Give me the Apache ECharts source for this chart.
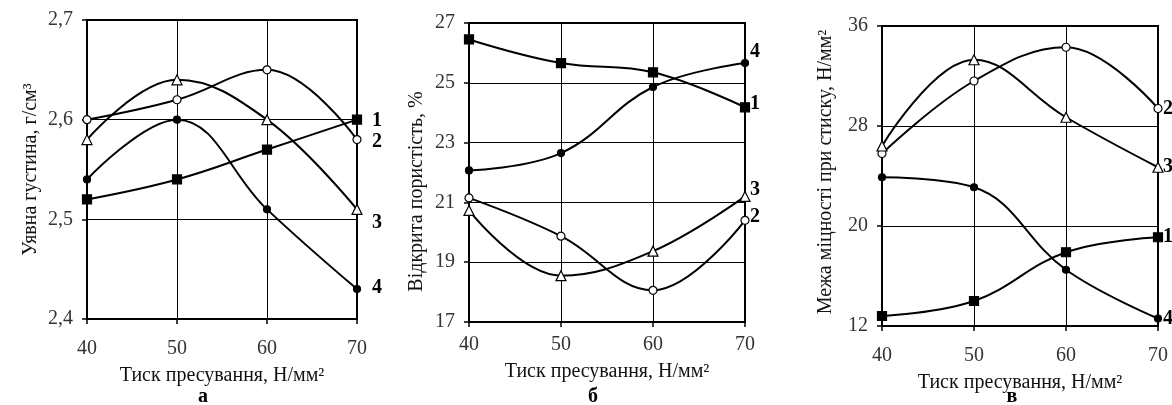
<!DOCTYPE html>
<html>
<head>
<meta charset="utf-8">
<script src="https://cdn.jsdelivr.net/npm/echarts@6/dist/echarts.min.js"></script>
<style>
html,body{margin:0;padding:0;background:#fff;}
#chart{width:1172px;height:405px;}
</style>
</head>
<body>
<div id="chart"></div>
<script>
// X values (pressing pressure, N/mm2)
const pressure = [40, 50, 60, 70];

// Chart а: apparent density, g/cm3
const densityS1 = [2.52, 2.54, 2.57, 2.60];
const densityS2 = [2.60, 2.62, 2.65, 2.58];
const densityS3 = [2.58, 2.64, 2.60, 2.51];
const densityS4 = [2.54, 2.60, 2.51, 2.43];

// Chart б: open porosity, %
const porosityS1 = [26.45, 25.66, 25.35, 24.18];
const porosityS2 = [21.15, 19.87, 18.06, 20.40];
const porosityS3 = [20.73, 18.55, 19.37, 21.20];
const porosityS4 = [22.07, 22.65, 24.86, 25.66];

// Chart в: compressive strength, N/mm2
const strengthS1 = [12.8, 14.0, 17.9, 19.1];
const strengthS2 = [25.8, 31.6, 34.3, 29.4];
const strengthS3 = [26.4, 33.3, 28.7, 24.7];
const strengthS4 = [23.9, 23.1, 16.5, 12.6];

const seriesNames = ['1', '2', '3', '4'];

const xName = 'Тиск пресування, Н/мм²';
const yNames = ['Уявна густина, г/см³', 'Відкрита пористість, %', 'Межа міцності при стиску, Н/мм²'];
const panelLetters = ['а', 'б', 'в'];

const FONT = '"Liberation Serif", "Times New Roman", serif';

const grids = [
  {left: 87, top: 20, width: 270, height: 299},
  {left: 469, top: 23, width: 276, height: 299},
  {left: 882, top: 26, width: 276, height: 300}
];
const yRanges = [
  {min: 2.4, max: 2.7, interval: 0.1},
  {min: 17, max: 27, interval: 2},
  {min: 12, max: 36, interval: 8}
];
const panelData = [
  [densityS1, densityS2, densityS3, densityS4],
  [porosityS1, porosityS2, porosityS3, porosityS4],
  [strengthS1, strengthS2, strengthS3, strengthS4]
];
// end label offsets per panel per series
const labelOffsets = [
  [[7, 1], [7, 2], [7, 13], [7, -1]],
  [[-3, -3], [-3, -4], [-3, -7], [-3, -11]],
  [[-3, 0], [-3, 0], [-3, 0], [-3, 0]]
];
const yNameGaps = [46, 42, 46];
const yNamePadding = [[0, 0, 0, 0], [0, 38, 0, 0], [0, 0, 0, 8]];
const xLabelMargins = [20, 13, 20];
const xNameGaps = [47, 40, 47];
const symbols = [
  {symbol: 'rect', size: 9, fill: '#000'},
  {symbol: 'circle', size: 8, fill: '#fff'},
  {symbol: 'triangle', size: 10, fill: '#fff'},
  {symbol: 'circle', size: 7, fill: '#000'}
];

const xAxes = [], yAxes = [], series = [], graphics = [];
const letterX = [203, 593, 1012];

grids.forEach((g, i) => {
  xAxes.push({
    type: 'value', gridIndex: i, min: 40, max: 70, interval: 10,
    name: xName, nameLocation: 'middle', nameGap: xNameGaps[i],
    nameTextStyle: {fontFamily: FONT, fontSize: 20, color: '#111'},
    axisLine: {show: true, lineStyle: {color: '#000', width: 2}},
    axisTick: {show: true, inside: false, length: 5, lineStyle: {color: '#000', width: 1.5}},
    axisLabel: {fontFamily: FONT, fontSize: 20, color: '#333', margin: xLabelMargins[i]},
    splitLine: {show: true, lineStyle: {color: '#000', width: 1}}
  });
  yAxes.push({
    type: 'value', gridIndex: i, min: yRanges[i].min, max: yRanges[i].max, interval: yRanges[i].interval,
    name: yNames[i], nameLocation: 'middle', nameGap: yNameGaps[i],
    nameTextStyle: {fontFamily: FONT, fontSize: 20, color: '#111', padding: yNamePadding[i]},
    axisLine: {show: true, lineStyle: {color: '#000', width: 2}},
    axisTick: {show: true, inside: false, length: 5, lineStyle: {color: '#000', width: 1.5}},
    axisLabel: {fontFamily: FONT, fontSize: 20, color: '#333', margin: 14,
      formatter: v => (i === 0 ? v.toFixed(1) : String(v)).replace('.', ',')},
    splitLine: {show: true, lineStyle: {color: '#000', width: 1}}
  });
  panelData[i].forEach((vals, s) => {
    const sym = symbols[s];
    series.push({
      type: 'line', xAxisIndex: i, yAxisIndex: i,
      name: seriesNames[s],
      data: pressure.map((x, k) => [x, vals[k]]),
      smooth: 0.4,
      symbol: sym.symbol, symbolSize: sym.size, showAllSymbol: true,
      itemStyle: {color: sym.fill, borderColor: '#000', borderWidth: 1.2},
      lineStyle: {color: '#000', width: 2},
      clip: false,
      z: 3 + s,
      endLabel: {
        show: true, formatter: seriesNames[s], offset: labelOffsets[i][s],
        fontFamily: FONT, fontSize: 20, fontWeight: 'bold', color: '#000'
      },
      animation: false
    });
  });
  graphics.push({
    type: 'text', x: letterX[i], y: 397,
    style: {text: panelLetters[i], fontFamily: FONT, fontSize: 20, fontWeight: 'bold', fill: '#000', align: 'center', verticalAlign: 'middle'}
  });
});

const chart = echarts.init(document.getElementById('chart'), null, {renderer: 'canvas'});
chart.setOption({
  backgroundColor: '#fff',
  animation: false,
  grid: grids.map(g => Object.assign({show: true, borderColor: '#000', borderWidth: 2, backgroundColor: 'transparent', containLabel: false}, g)),
  xAxis: xAxes,
  yAxis: yAxes,
  series: series,
  graphic: graphics
});
</script>
</body>
</html>
